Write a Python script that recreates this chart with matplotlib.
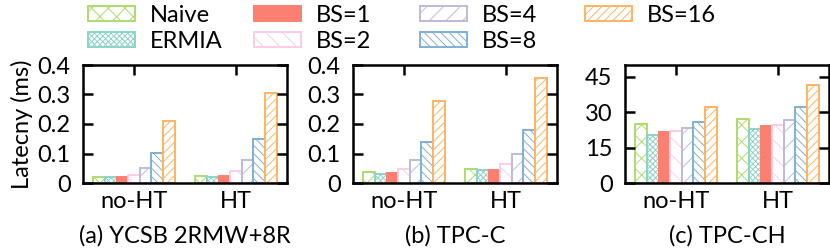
import matplotlib
matplotlib.use("Agg")
import matplotlib.pyplot as plt
import numpy as np

plt.rcParams['font.family'] = ['Lato', 'DejaVu Sans']
plt.rcParams['hatch.linewidth'] = 0.7

series = ["Naive", "ERMIA", "BS=1", "BS=2", "BS=4", "BS=8", "BS=16"]
colors = ["#addc6c", "#8dd3c7", "#fb8072", "#fccde5", "#bebada", "#80b1d3", "#fdb462"]
hatches = ["xx", "xxxxxx", None, "\\\\", "//", "\\\\\\\\", "////"]
groups = ["no-HT", "HT"]

ycsb = {
    "Naive": [0.022, 0.024], "ERMIA": [0.019, 0.021], "BS=1": [0.021, 0.023],
    "BS=2": [0.028, 0.040], "BS=4": [0.050, 0.077], "BS=8": [0.101, 0.150],
    "BS=16": [0.210, 0.305],
}
tpcc = {
    "Naive": [0.036, 0.047], "ERMIA": [0.032, 0.043], "BS=1": [0.034, 0.043],
    "BS=2": [0.047, 0.064], "BS=4": [0.077, 0.100], "BS=8": [0.140, 0.180],
    "BS=16": [0.278, 0.355],
}
tpcch = {
    "Naive": [25.0, 27.0], "ERMIA": [20.5, 23.0], "BS=1": [21.7, 24.0],
    "BS=2": [22.0, 24.7], "BS=4": [23.5, 26.5], "BS=8": [25.7, 32.0],
    "BS=16": [32.0, 41.5],
}
panels = [
    (ycsb, "(a) YCSB 2RMW+8R", 0.4, [0, 0.1, 0.2, 0.3, 0.4], ["0", "0.1", "0.2", "0.3", "0.4"]),
    (tpcc, "(b) TPC-C", 0.4, [0, 0.1, 0.2, 0.3, 0.4], ["0", "0.1", "0.2", "0.3", "0.4"]),
    (tpcch, "(c) TPC-CH", 50, [0, 15, 30, 45], ["0", "15", "30", "45"]),
]

FS = 17
W, H = 830, 249
fig = plt.figure(figsize=(W / 100, H / 100), dpi=100)
lefts = [83, 353, 625]
axw = 204
top_px, bot_px = 65, 183

bw = 0.8 / 7
x = np.arange(len(groups))
handles = []
for pi, (data, cap, ymax, yt, ytl) in enumerate(panels):
    ax = fig.add_axes([lefts[pi] / W, 1 - bot_px / H, axw / W, (bot_px - top_px) / H])
    for si, s in enumerate(series):
        pos = x - 0.4 + bw * (si + 0.5)
        if hatches[si] is None:
            b = ax.bar(pos, data[s], width=bw, color=colors[si], edgecolor=colors[si], linewidth=1.4)
        else:
            b = ax.bar(pos, data[s], width=bw, facecolor="white", edgecolor=colors[si],
                       hatch=hatches[si], linewidth=1.4)
        if pi == 0:
            handles.append(b)
    ax.set_xlim(-0.5, 1.5)
    ax.set_ylim(0, ymax)
    ax.set_yticks(yt)
    ax.set_yticklabels(ytl)
    ax.set_xticks(x)
    ax.set_xticklabels(groups)
    ax.tick_params(axis='y', direction='in', length=7, width=1.8, labelsize=FS, right=True, pad=9)
    ax.tick_params(axis='x', direction='in', length=0, labelsize=FS, pad=6)
    ax.xaxis.set_tick_params(which='both', top=True, bottom=False, length=7, width=1.8)
    for sp in ax.spines.values():
        sp.set_linewidth(1.8)
    fig.text((lefts[pi] + axw / 2) / W, 1 - 243 / H, cap, ha='center', va='baseline', fontsize=FS)
    if pi == 0:
        ax.set_ylabel("Latecny (ms)", fontsize=FS, labelpad=3)

cols = [(0, 1), (2, 3), (4, 5), (6,)]
legx = [88, 254, 420, 585]
for ci, idx in enumerate(cols):
    fig.legend([handles[i] for i in idx], [series[i] for i in idx], loc='upper left',
               bbox_to_anchor=(legx[ci] / W, 1.0 - 5 / H), frameon=False, fontsize=FS,
               handlelength=2.0, handleheight=0.6, handletextpad=0.6, labelspacing=0.2,
               borderaxespad=0, borderpad=0.0)

fig.savefig("out.png", dpi=100)
